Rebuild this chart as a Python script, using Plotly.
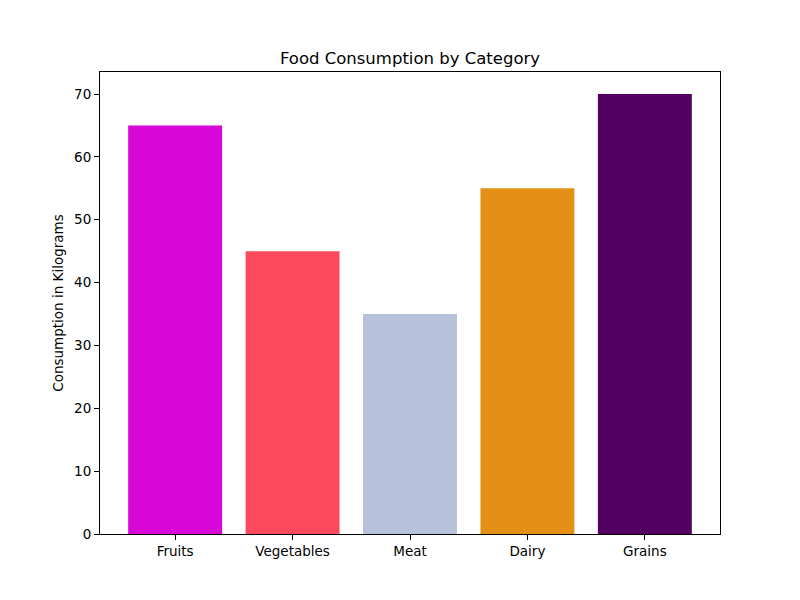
import plotly.graph_objects as go

categories = ["Fruits", "Vegetables", "Meat", "Dairy", "Grains"]
consumption = [65, 45, 35, 55, 70]
bar_colors = ["#d807d8", "#fc4a5c", "#b6c2dc", "#e48f16", "#540062"]

fig = go.Figure(
    data=[
        go.Bar(
            x=list(range(len(categories))),
            y=consumption,
            width=0.8,
            marker=dict(color=bar_colors, line=dict(width=0)),
        )
    ]
)

# page has an 8px body margin, so the figure is drawn 784x584
fig.update_layout(
    width=784,
    height=584,
    paper_bgcolor="white",
    plot_bgcolor="white",
    margin=dict(l=92, r=72, t=64, b=58),
    font=dict(family="DejaVu Sans", size=13.5, color="black"),
    showlegend=False,
    title=dict(
        text="Food Consumption by Category",
        xref="paper",
        x=0.5,
        xanchor="center",
        y=1 - 50 / 584,
        yanchor="middle",
        font=dict(size=16.5),
    ),
)

fig.update_xaxes(
    range=[-0.64, 4.64],
    tickmode="array",
    tickvals=list(range(len(categories))),
    ticktext=categories,
    ticks="outside",
    ticklen=5,
    tickcolor="black",
    showline=True,
    linecolor="black",
    linewidth=1,
    mirror=True,
    showgrid=False,
    zeroline=False,
)
fig.update_yaxes(
    range=[0, 73.5],
    tickvals=[0, 10, 20, 30, 40, 50, 60, 70],
    ticks="outside",
    ticklen=5,
    tickcolor="black",
    showline=True,
    linecolor="black",
    linewidth=1,
    mirror=True,
    showgrid=False,
    zeroline=False,
    title=dict(text="Consumption in Kilograms", standoff=7, font=dict(size=13.5)),
)

fig.write_html("out.html")
